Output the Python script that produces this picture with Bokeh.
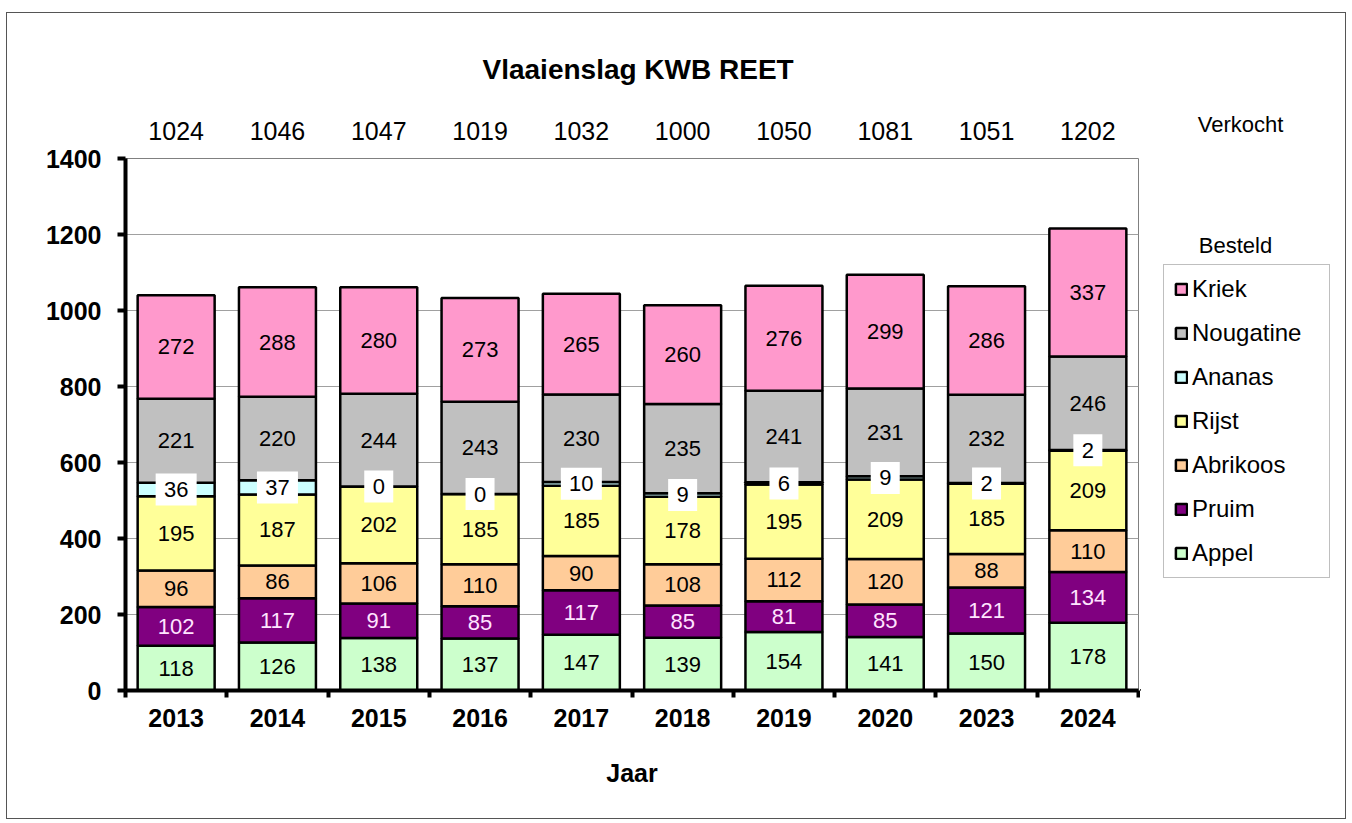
from bokeh.plotting import figure
from bokeh.layouts import row
from bokeh.models import (ColumnDataSource, FactorRange, Range1d, LinearAxis, CategoricalAxis,
                          FixedTicker, Legend, LegendItem, LabelSet, Label, CustomJSTickFormatter)
from bokeh.core.properties import value
from bokeh.embed import file_html
from bokeh.resources import INLINE

# ---- data ----
years = ["2013", "2014", "2015", "2016", "2017", "2018", "2019", "2020", "2023", "2024"]
sold = [1024, 1046, 1047, 1019, 1032, 1000, 1050, 1081, 1051, 1202]
appel = [118, 126, 138, 137, 147, 139, 154, 141, 150, 178]
pruim = [102, 117, 91, 85, 117, 85, 81, 85, 121, 134]
abrikoos = [96, 86, 106, 110, 90, 108, 112, 120, 88, 110]
rijst = [195, 187, 202, 185, 185, 178, 195, 209, 185, 209]
ananas = [36, 37, 0, 0, 10, 9, 6, 9, 2, 2]
nougatine = [221, 220, 244, 243, 230, 235, 241, 231, 232, 246]
kriek = [272, 288, 280, 273, 265, 260, 276, 299, 286, 337]
y_ticks = [0, 200, 400, 600, 800, 1000, 1200, 1400]

series_names = ["Appel", "Pruim", "Abrikoos", "Rijst", "Ananas", "Nougatine", "Kriek"]
series_values = [appel, pruim, abrikoos, rijst, ananas, nougatine, kriek]
series_colors = ["#CCFFCC", "#800080", "#FFCC99", "#FFFF99", "#CCFFFF", "#C0C0C0", "#FF99CC"]

FONT = "Liberation Sans"
H = 805

data = {"year": years}
cum = [0] * len(years)
for name, vals in zip(series_names, series_values):
    data[name] = vals
    data["mid_" + name] = [c + v / 2 for c, v in zip(cum, vals)]
    data["txt_" + name] = [str(v) for v in vals]
    cum = [c + v for c, v in zip(cum, vals)]
data["box_w"] = [len(str(v)) * 12 + 17 for v in ananas]
src = ColumnDataSource(data)

# ================= main chart =================
p = figure(width=1133, height=H, x_range=FactorRange(factors=years), y_range=Range1d(0, 1400),
           output_backend="svg", toolbar_location=None, x_axis_location=None,
           min_border_left=118, min_border_right=2, min_border_top=145, min_border_bottom=128)

p.xgrid.grid_line_color = None
p.ygrid.grid_line_color = "#A0A0A0"
p.ygrid.grid_line_width = 1
p.outline_line_color = "#808080"
p.outline_line_width = 1

ya = p.yaxis[0]
ya.ticker = FixedTicker(ticks=y_ticks)
ya.axis_line_width = 4
ya.axis_line_color = "black"
ya.major_tick_line_width = 4
ya.major_tick_out = 8
ya.major_tick_in = 0
ya.minor_tick_line_color = None
ya.major_label_text_font = FONT
ya.major_label_text_font_size = "25px"
ya.major_label_text_font_style = "bold"
ya.major_label_text_color = "black"
ya.major_label_standoff = 16

edge_ticks = list(range(len(years) + 1))
edge_axis = LinearAxis(ticker=FixedTicker(ticks=edge_ticks),
                       major_label_overrides={t: "" for t in edge_ticks},
                       major_label_text_font_size="10px", major_label_standoff=0,
                       axis_line_width=4, axis_line_color="black", major_tick_line_width=4,
                       major_tick_out=7, major_tick_in=0, minor_tick_line_color=None)
p.add_layout(edge_axis, "below")
cat_axis = CategoricalAxis(axis_line_color=None, major_tick_line_color=None, minor_tick_line_color=None,
                           major_label_text_font=FONT, major_label_text_font_size="25px",
                           major_label_text_font_style="bold", major_label_text_color="black",
                           major_label_standoff=5,
                           axis_label="Jaar", axis_label_text_font=FONT, axis_label_text_font_size="25px",
                           axis_label_text_font_style="bold", axis_label_text_color="black",
                           axis_label_standoff=29)
p.add_layout(cat_axis, "below")

sold_fmt = CustomJSTickFormatter(args={"years": years, "sold": [str(s) for s in sold]},
                                 code="const i = years.indexOf(tick); return i >= 0 ? sold[i] : '';")
top_axis = CategoricalAxis(axis_line_color=None, major_tick_line_color=None, minor_tick_line_color=None,
                           formatter=sold_fmt,
                           major_label_text_font=FONT, major_label_text_font_size="25px",
                           major_label_text_font_style="normal", major_label_text_color="black",
                           major_label_standoff=13)
p.add_layout(top_axis, "above")

p.title.text = "Vlaaienslag KWB REET"
p.title.align = "left"
p.title.offset = 357
p.title.text_font = FONT
p.title.text_font_size = "28px"
p.title.text_font_style = "bold"
p.title.text_color = "black"
p.title.standoff = 68

renderers = p.vbar_stack(series_names, x="year", width=0.76, source=src,
                         fill_color=series_colors, line_color="black", line_width=2.5)

p.rect(x="year", y="mid_Ananas", width="box_w", height=32, width_units="screen", height_units="screen",
       source=src, fill_color="white", line_color=None)

for name in series_names:
    color = "#FFE4FF" if name == "Pruim" else "black"
    p.add_layout(LabelSet(x="year", y="mid_" + name, text="txt_" + name, source=src,
                          text_align="center", text_baseline="middle", text_font=value(FONT),
                          text_font_size=value("22px"), text_color=color))

# ================= right side panel (legend + side texts) =================
side = figure(width=205, height=H, x_range=Range1d(0, 205), y_range=Range1d(0, 1400),
              output_backend="svg", toolbar_location=None, x_axis_location=None, y_axis_location=None,
              min_border_left=0, min_border_right=0, min_border_top=145, min_border_bottom=128)
side.xgrid.grid_line_color = None
side.ygrid.grid_line_color = None
side.outline_line_color = None

verkocht_axis = LinearAxis(ticker=FixedTicker(ticks=[100]), major_label_overrides={100: "Verkocht"},
                           axis_line_color=None, major_tick_line_color=None, minor_tick_line_color=None,
                           major_label_text_font=FONT, major_label_text_font_size="22px",
                           major_label_text_color="black", major_label_standoff=16)
side.add_layout(verkocht_axis, "above")

legend_src = ColumnDataSource({"x": [-1000], "top": [0]})
dummies = [side.vbar(x="x", top="top", width=1, source=legend_src, fill_color=c,
                     line_color="black", line_width=2.5) for c in series_colors]
items = [LegendItem(label=n, renderers=[r]) for n, r in zip(series_names, dummies)][::-1]
legend = Legend(items=items, location=(23, 112), orientation="vertical",
                label_text_font=FONT, label_text_font_size="24px", label_text_color="black",
                glyph_width=14, glyph_height=14, label_height=28, label_width=127, label_standoff=4,
                spacing=16, padding=10, margin=0,
                border_line_color="#808080", border_line_width=1, background_fill_color="white",
                background_fill_alpha=1.0)
side.add_layout(legend)

side.add_layout(Label(x=95, y=1171, text="Besteld", text_font=FONT, text_font_size="22px",
                      text_align="center", text_baseline="middle", text_color="black"))

layout = row(p, side, spacing=0)
layout.styles = {"border": "1px solid #555555", "margin": "12px 0 0 6px"}

open("out.html", "w").write(file_html(layout, INLINE))
